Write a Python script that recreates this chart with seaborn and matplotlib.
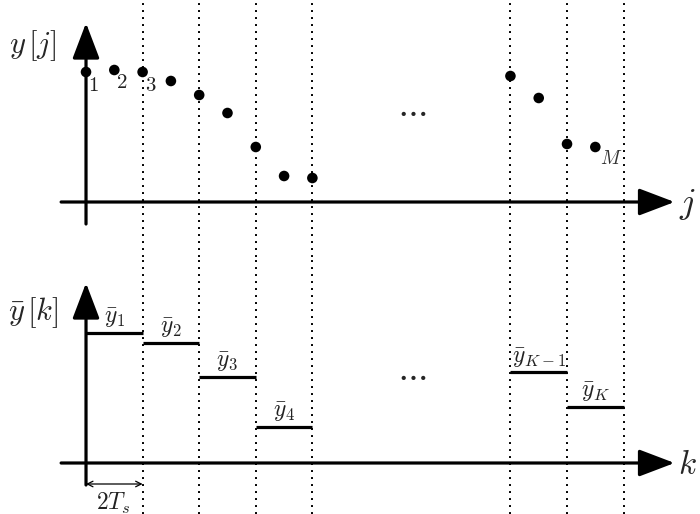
import matplotlib
matplotlib.use('Agg')
import matplotlib.pyplot as plt
import seaborn as sns
import pandas as pd

sns.set_style('white')
plt.rcParams['mathtext.fontset'] = 'cm'
plt.rcParams['font.family'] = ['DejaVu Sans']

# samples y[j]  (j position, value)
j_left = [0, 1, 2, 3, 4, 5, 6, 7, 8]
y_left = [13.0, 13.2, 13.0, 12.1, 10.7, 8.9, 5.5, 2.6, 2.4]
j_right = [15, 16, 17, 18]
y_right = [12.6, 10.4, 5.8, 5.5]

# block means ybar[k]
k_start = [0, 2, 4, 6, 15, 17]
k_end = [2, 4, 6, 8, 17, 19]
ybar = [13.0, 12.0, 8.6, 3.6, 9.1, 5.6]
ybar_labels = [r'$\bar{y}_1$', r'$\bar{y}_2$', r'$\bar{y}_3$', r'$\bar{y}_4$',
               r'$\bar{y}_{K-1}$', r'$\bar{y}_K$']

# dotted block boundaries
bounds = [2, 4, 6, 8, 15, 17, 19]

df = pd.DataFrame({'j': j_left + j_right, 'y': y_left + y_right})

fig = plt.figure(figsize=(7, 5.14), dpi=100)
ax1 = fig.add_axes([0, 0.5, 1, 0.5])
ax2 = fig.add_axes([0, 0, 1, 0.5])

for ax in (ax1, ax2):
    for b in bounds:
        ax.axvline(b, color='k', lw=1.4, ls=(0, (1, 2.6)), zorder=1)

arrow = dict(arrowstyle='-|>,head_length=1.0,head_width=0.38', lw=2.3,
             color='k', mutation_scale=22, shrinkA=0, shrinkB=0)

# top panel
ax1.annotate('', xy=(0, 17.9), xytext=(0, -2.2), arrowprops=arrow)
ax1.annotate('', xy=(20.8, 0), xytext=(-0.88, 0), arrowprops=arrow)
sns.scatterplot(data=df, x='j', y='y', ax=ax1, color='k', s=58,
                edgecolor='none', zorder=3, legend=False)
ax1.text(-1.87, 15.6, r'$y\,[j]$', fontsize=22, ha='center', va='center')
for lab, (x, y) in zip(['1', '2', '3'], [(0.25, 11.7), (1.27, 12.0), (2.3, 11.7)]):
    ax1.text(x, y, '$%s$' % lab, fontsize=15, ha='center', va='center', color='#222')
ax1.text(18.55, 4.3, r'$M$', fontsize=14, ha='center', va='center', color='#333')
ax1.text(21.25, -0.2, r'$j$', fontsize=26, ha='center', va='center')
ax1.text(11.5, 9.2, r'$\cdots$', fontsize=24, ha='center', va='center')
ax1.set_xlim(-3.04, 21.7)
ax1.set_ylim(-5.5, 20.2)
ax1.axis('off')

# bottom panel
ax2.annotate('', xy=(0, 18.0), xytext=(0, -2.2), arrowprops=arrow)
ax2.annotate('', xy=(20.8, 0), xytext=(-0.88, 0), arrowprops=arrow)
ax2.hlines(ybar, k_start, k_end, color='k', lw=2.3, zorder=3)
for s, e, v, lab in zip(k_start, k_end, ybar, ybar_labels):
    ax2.text((s + e) / 2, v + 1.45, lab, fontsize=17, ha='center', va='center', color='#222')
ax2.text(-1.87, 15.0, r'$\bar{y}\,[k]$', fontsize=22, ha='center', va='center')
ax2.text(21.25, -0.1, r'$k$', fontsize=24, ha='center', va='center')
ax2.text(11.5, 8.9, r'$\cdots$', fontsize=24, ha='center', va='center')
ax2.annotate('', xy=(2, -2.1), xytext=(0, -2.1),
             arrowprops=dict(arrowstyle='<->', lw=0.9, color='k', shrinkA=0, shrinkB=0))
ax2.text(0.95, -4.0, r'$2T_s$', fontsize=17, ha='center', va='center', color='#222')
ax2.set_xlim(-3.04, 21.7)
ax2.set_ylim(-5.1, 20.6)
ax2.axis('off')

fig.savefig('out.png', dpi=100)
